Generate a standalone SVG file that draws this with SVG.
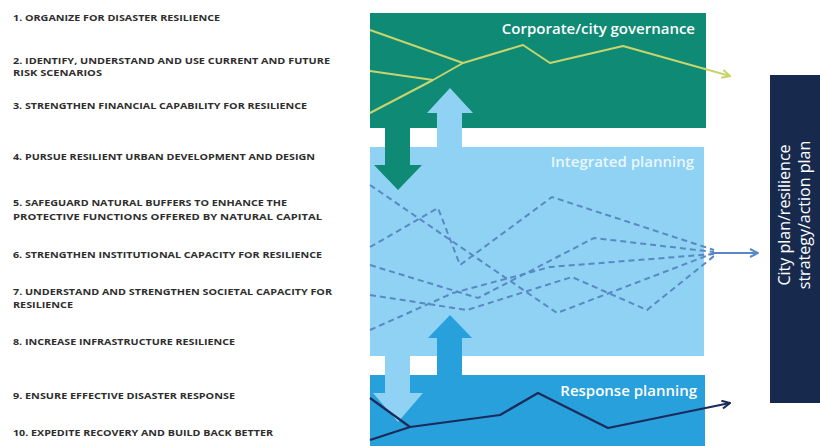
<svg xmlns="http://www.w3.org/2000/svg" width="820" height="446" viewBox="0 0 820 446">
<defs>
<style>
.item{font-family:"Open Sans","Liberation Sans",sans-serif;font-weight:700;font-size:9px;fill:#2e2e2e}
.boxlbl{font-family:"Open Sans","Liberation Sans",sans-serif;font-weight:600;font-size:15px;text-anchor:end}
.plan{font-family:"Open Sans","Liberation Sans",sans-serif;font-size:16px;fill:#ffffff;text-anchor:middle}
.gov{fill:none;stroke:#c8d46c;stroke-width:2;stroke-linejoin:round}
.dash{fill:none;stroke:#5a88c4;stroke-width:2;stroke-dasharray:6 4}
.resp{fill:none;stroke:#1b2a5a;stroke-width:2.2;stroke-linejoin:round}
</style>
<marker id="mGov" viewBox="0 0 10 10" refX="9" refY="5" markerWidth="10" markerHeight="10" markerUnits="userSpaceOnUse" orient="auto"><path d="M1,1 L9,5 L1,9" fill="none" stroke="#c8d46c" stroke-width="2"/></marker>
<marker id="mBlue" viewBox="0 0 10 10" refX="9" refY="5" markerWidth="10" markerHeight="10" markerUnits="userSpaceOnUse" orient="auto"><path d="M1,1 L9,5 L1,9" fill="none" stroke="#5a88c4" stroke-width="2"/></marker>
<marker id="mNavy" viewBox="0 0 10 10" refX="9" refY="5" markerWidth="10" markerHeight="10" markerUnits="userSpaceOnUse" orient="auto"><path d="M1,1 L9,5 L1,9" fill="none" stroke="#1b2a5a" stroke-width="2"/></marker>
</defs>
<rect width="820" height="446" fill="#ffffff"/>

<g id="principles">
<g id="p1"><text class="item" x="13" y="21" textLength="207" lengthAdjust="spacingAndGlyphs">1. ORGANIZE FOR DISASTER RESILIENCE</text></g>
<g id="p2"><text class="item" x="13" y="64" textLength="317" lengthAdjust="spacingAndGlyphs">2. IDENTIFY, UNDERSTAND AND USE CURRENT AND FUTURE</text><text class="item" x="13" y="76" textLength="89" lengthAdjust="spacingAndGlyphs">RISK SCENARIOS</text></g>
<g id="p3"><text class="item" x="13" y="109" textLength="294" lengthAdjust="spacingAndGlyphs">3. STRENGTHEN FINANCIAL CAPABILITY FOR RESILIENCE</text></g>
<g id="p4"><text class="item" x="13" y="160" textLength="302" lengthAdjust="spacingAndGlyphs">4. PURSUE RESILIENT URBAN DEVELOPMENT AND DESIGN</text></g>
<g id="p5"><text class="item" x="13" y="206" textLength="274" lengthAdjust="spacingAndGlyphs">5. SAFEGUARD NATURAL BUFFERS TO ENHANCE THE</text><text class="item" x="13" y="220" textLength="309" lengthAdjust="spacingAndGlyphs">PROTECTIVE FUNCTIONS OFFERED BY NATURAL CAPITAL</text></g>
<g id="p6"><text class="item" x="13" y="258" textLength="309" lengthAdjust="spacingAndGlyphs">6. STRENGTHEN INSTITUTIONAL CAPACITY FOR RESILIENCE</text></g>
<g id="p7"><text class="item" x="13" y="295" textLength="319" lengthAdjust="spacingAndGlyphs">7. UNDERSTAND AND STRENGTHEN SOCIETAL CAPACITY FOR</text><text class="item" x="13" y="308" textLength="60" lengthAdjust="spacingAndGlyphs">RESILIENCE</text></g>
<g id="p8"><text class="item" x="13" y="345" textLength="222" lengthAdjust="spacingAndGlyphs">8. INCREASE INFRASTRUCTURE RESILIENCE</text></g>
<g id="p9"><text class="item" x="13" y="399" textLength="222" lengthAdjust="spacingAndGlyphs">9. ENSURE EFFECTIVE DISASTER RESPONSE</text></g>
<g id="p10"><text class="item" x="13" y="436" textLength="260" lengthAdjust="spacingAndGlyphs">10. EXPEDITE RECOVERY AND BUILD BACK BETTER</text></g>
</g>

<g id="governance"><rect x="370" y="13" width="336" height="115" fill="#0f8a74"/><text class="boxlbl" x="695" y="34" fill="#ffffff">Corporate/city governance</text></g>
<g id="integrated"><rect x="370" y="147" width="334" height="209" fill="#8fd2f3"/><text class="boxlbl" x="694" y="167" fill="#e9f7fd">Integrated planning</text></g>
<g id="response"><rect x="370" y="375" width="335" height="71" fill="#27a0dc"/><text class="boxlbl" x="697" y="396" fill="#ffffff">Response planning</text></g>
<g id="cityplan"><rect x="770" y="75" width="50" height="328" fill="#172a4e"/><text class="plan" transform="translate(790,215) rotate(-90)">City plan/resilience</text><text class="plan" transform="translate(810,215) rotate(-90)">strategy/action plan</text></g>

<g id="connectors">
<polygon points="385,128 410,128 410,165 422,165 398,190 374,165 385,165" fill="#0f8a74"/>
<polygon points="437,150 462,150 462,113 473,113 450,88 427,113 437,113" fill="#8fd2f3"/>
<polygon points="385,354 410,354 410,393 423,393 398,422 373,393 385,393" fill="#8fd2f3"/>
<polygon points="437,378 462,378 462,338 472,338 450,315 428,338 437,338" fill="#27a0dc"/>

<polyline class="gov" points="370,30 463,63"/>
<polyline class="gov" points="370,71 433,80"/>
<polyline class="gov" points="370,113 433,80 463,63 523,45 550,63 623,46 730,76" marker-end="url(#mGov)"/>

<polyline class="dash" points="370,185 557,313 714,253"/>
<polyline class="dash" points="370,247 438,208 460,265 552,197 714,250"/>
<polyline class="dash" points="370,265 478,298 594,238 714,252"/>
<polyline class="dash" points="370,295 467,310 572,277 647,310 714,256"/>
<polyline class="dash" points="370,330 453,293 550,267 714,254"/>
<line x1="712" y1="253" x2="758" y2="253" stroke="#5a88c4" stroke-width="2" marker-end="url(#mBlue)"/>

<polyline class="resp" points="370,398 410,427"/>
<polyline class="resp" points="370,440 410,427 500,415 538,393 608,428 730,403" marker-end="url(#mNavy)"/>
</g>
</svg>
